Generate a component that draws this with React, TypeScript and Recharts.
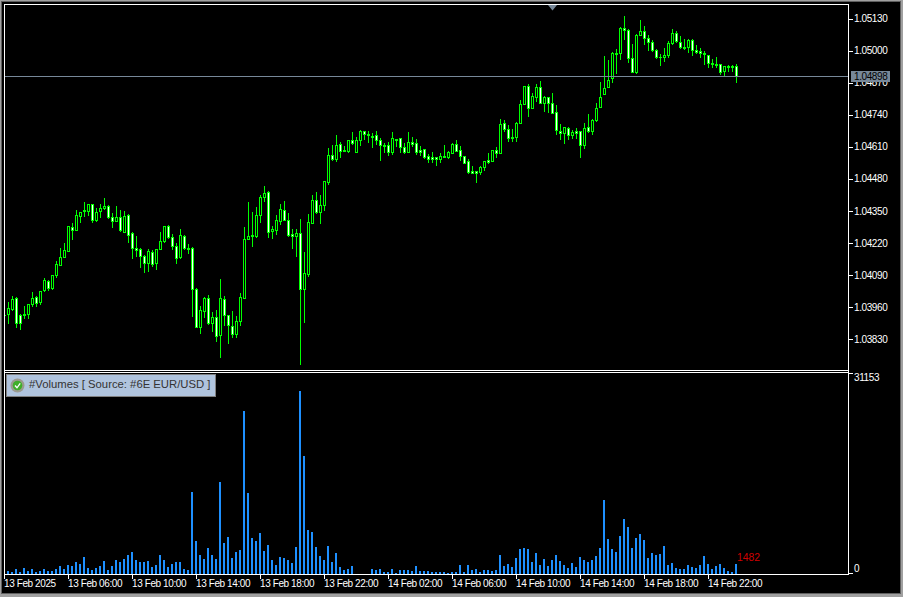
import React from 'react';
import { ComposedChart, Bar, XAxis, YAxis, ReferenceLine, ReferenceDot } from 'recharts';

// 15 minute bars, index 0 is 13 Feb 2025 02:00
const highs = [
  1.03932, 1.0398, 1.04005, 1.04001, 1.03932, 1.03964, 1.03972, 1.04021, 1.04005, 1.04025,
  1.04078, 1.0407, 1.0409, 1.04147, 1.042, 1.0422, 1.04289, 1.04301, 1.04354, 1.04346,
  1.04387, 1.04378, 1.04378, 1.04362, 1.04378, 1.04403, 1.04374, 1.04342, 1.0437, 1.04354,
  1.0435, 1.04338, 1.04265, 1.04248, 1.042, 1.04171, 1.04196, 1.04192, 1.04196, 1.04265,
  1.04289, 1.04293, 1.04257, 1.0422, 1.04277, 1.04253, 1.04216, 1.04204, 1.04037, 1.03964,
  1.04001, 1.04009, 1.0394, 1.03948, 1.04074, 1.04005, 1.03928, 1.03944, 1.03923, 1.04017,
  1.04285, 1.04387, 1.04346, 1.04366, 1.04415, 1.04452, 1.04431, 1.04289, 1.04334, 1.04378,
  1.04391, 1.04342, 1.04277, 1.04277, 1.04318, 1.04183, 1.04338, 1.04415, 1.04427, 1.04415,
  1.04472, 1.04606, 1.04618, 1.04659, 1.0463, 1.04614, 1.04638, 1.04671, 1.04651, 1.04679,
  1.04675, 1.04675, 1.04667, 1.04675, 1.04647, 1.04626, 1.0463, 1.04671, 1.04643, 1.04647,
  1.04626, 1.04671, 1.04651, 1.04643, 1.04614, 1.04602, 1.04582, 1.0459, 1.04569, 1.04586,
  1.04618, 1.04594, 1.04626, 1.04638, 1.04614, 1.04573, 1.04561, 1.04533, 1.04513, 1.04533,
  1.04553, 1.04586, 1.04598, 1.0461, 1.04724, 1.0472, 1.04699, 1.04683, 1.04712, 1.04801,
  1.04858, 1.04866, 1.04829, 1.04866, 1.04878, 1.04817, 1.04813, 1.04829, 1.04781, 1.04703,
  1.04691, 1.04691, 1.04679, 1.04687, 1.04675, 1.04708, 1.04744, 1.04724, 1.04789, 1.04874,
  1.0498, 1.04963, 1.04996, 1.05008, 1.05098, 1.05142, 1.05089, 1.05028, 1.05069, 1.05126,
  1.05102, 1.05065, 1.05045, 1.05008, 1.04988, 1.05012, 1.05041, 1.05089, 1.05081, 1.05061,
  1.05049, 1.05049, 1.05049, 1.05024, 1.05012, 1.05, 1.04984, 1.04968, 1.04976, 1.04947,
  1.04939, 1.04943, 1.04943, 1.04947,
];

const lows = [
  1.03923, 1.03895, 1.03948, 1.03879, 1.03871, 1.03915, 1.03915, 1.03964, 1.03964, 1.03972,
  1.04025, 1.04029, 1.04033, 1.04082, 1.04131, 1.04163, 1.04188, 1.04236, 1.04273, 1.04305,
  1.0433, 1.04334, 1.04305, 1.04309, 1.04326, 1.04358, 1.04322, 1.04285, 1.04309, 1.04269,
  1.04265, 1.04224, 1.04159, 1.04167, 1.04123, 1.04102, 1.04106, 1.04127, 1.04114, 1.04196,
  1.04224, 1.0424, 1.04196, 1.04139, 1.04159, 1.04196, 1.04179, 1.03923, 1.03879, 1.03854,
  1.03919, 1.03891, 1.03863, 1.03822, 1.03757, 1.03887, 1.03814, 1.03838, 1.03838, 1.03887,
  1.03997, 1.04236, 1.04208, 1.04244, 1.04305, 1.04391, 1.04244, 1.0424, 1.04257, 1.04297,
  1.04313, 1.04248, 1.042, 1.04167, 1.03728, 1.03899, 1.04086, 1.04301, 1.04342, 1.04301,
  1.04354, 1.0446, 1.04557, 1.04553, 1.04569, 1.04594, 1.0459, 1.04622, 1.0459, 1.04618,
  1.04643, 1.0463, 1.0461, 1.04622, 1.04557, 1.0459, 1.04578, 1.04582, 1.04614, 1.0459,
  1.04586, 1.0459, 1.04614, 1.04582, 1.04578, 1.04565, 1.04549, 1.04549, 1.04537, 1.04549,
  1.04569, 1.04565, 1.04586, 1.04594, 1.04557, 1.04545, 1.04504, 1.04504, 1.04468, 1.045,
  1.04517, 1.04545, 1.04553, 1.04569, 1.04586, 1.04675, 1.04634, 1.04634, 1.04634, 1.04708,
  1.04785, 1.04736, 1.04768, 1.04797, 1.04789, 1.04756, 1.04752, 1.04748, 1.04663, 1.04643,
  1.04626, 1.04643, 1.04647, 1.04647, 1.04569, 1.04606, 1.04671, 1.04663, 1.04716, 1.04773,
  1.04825, 1.04854, 1.04874, 1.04911, 1.04968, 1.05049, 1.04955, 1.04915, 1.04911, 1.05065,
  1.05028, 1.05004, 1.05, 1.04972, 1.04943, 1.04959, 1.04976, 1.05028, 1.05037, 1.05012,
  1.05008, 1.04996, 1.04984, 1.04992, 1.04976, 1.04947, 1.04935, 1.04935, 1.04935, 1.04907,
  1.04903, 1.04919, 1.04919, 1.04874,
];

const opens = [
  1.03928, 1.03932, 1.03952, 1.03997, 1.03928, 1.03932, 1.03932, 1.03972, 1.04001, 1.0398,
  1.04029, 1.04066, 1.04037, 1.0409, 1.04131, 1.04163, 1.04188, 1.04285, 1.04273, 1.0433,
  1.04354, 1.0435, 1.04378, 1.04313, 1.0435, 1.04362, 1.0437, 1.04326, 1.04309, 1.04326,
  1.04265, 1.04334, 1.04261, 1.042, 1.04196, 1.04167, 1.04139, 1.04183, 1.04139, 1.04196,
  1.04228, 1.04289, 1.04244, 1.04208, 1.04163, 1.04248, 1.042, 1.042, 1.04033, 1.03879,
  1.03944, 1.03997, 1.03895, 1.03919, 1.03846, 1.03993, 1.03928, 1.03883, 1.0385, 1.03903,
  1.03997, 1.04236, 1.04253, 1.04248, 1.04334, 1.04407, 1.04427, 1.04269, 1.04273, 1.04309,
  1.04354, 1.04313, 1.04257, 1.04248, 1.04261, 1.04033, 1.04094, 1.04301, 1.04395, 1.04346,
  1.04374, 1.04468, 1.04578, 1.04561, 1.04622, 1.04598, 1.04594, 1.04638, 1.0459, 1.04638,
  1.04675, 1.04663, 1.04655, 1.04659, 1.04638, 1.04618, 1.04618, 1.0459, 1.04643, 1.04647,
  1.0461, 1.0459, 1.0463, 1.04626, 1.04598, 1.04602, 1.04573, 1.04569, 1.04569, 1.04561,
  1.04573, 1.04569, 1.04586, 1.04622, 1.04598, 1.04573, 1.04553, 1.04513, 1.04513, 1.04508,
  1.04529, 1.04557, 1.04553, 1.04598, 1.04586, 1.04708, 1.04683, 1.04651, 1.04651, 1.04708,
  1.04785, 1.04858, 1.04768, 1.04813, 1.04854, 1.04789, 1.04813, 1.04789, 1.04752, 1.04675,
  1.04667, 1.04687, 1.04659, 1.04675, 1.04675, 1.04618, 1.04691, 1.04675, 1.0472, 1.04773,
  1.04825, 1.04854, 1.0489, 1.04992, 1.04992, 1.05093, 1.05085, 1.04972, 1.04915, 1.05065,
  1.05081, 1.05053, 1.05037, 1.05004, 1.04976, 1.04976, 1.04984, 1.05033, 1.05073, 1.05037,
  1.05016, 1.05016, 1.05045, 1.05004, 1.05, 1.04992, 1.04984, 1.04951, 1.04947, 1.04947,
  1.04919, 1.04939, 1.04939, 1.04939,
];

const closes = [
  1.03928, 1.03956, 1.03993, 1.03895, 1.03895, 1.03928, 1.03972, 1.03997, 1.03976, 1.04025,
  1.0407, 1.04037, 1.0409, 1.04135, 1.04163, 1.04192, 1.04289, 1.04273, 1.04334, 1.04346,
  1.0435, 1.04378, 1.04313, 1.04346, 1.04362, 1.0437, 1.04326, 1.04309, 1.04326, 1.04273,
  1.0433, 1.04253, 1.042, 1.04192, 1.04167, 1.04139, 1.04188, 1.04135, 1.04196, 1.04228,
  1.04289, 1.04244, 1.04208, 1.04159, 1.04253, 1.042, 1.04196, 1.04033, 1.03879, 1.03948,
  1.03997, 1.03895, 1.03919, 1.03842, 1.03997, 1.03928, 1.03887, 1.0385, 1.03903, 1.04001,
  1.04236, 1.04248, 1.04248, 1.04334, 1.04407, 1.04423, 1.04265, 1.04277, 1.04313, 1.04358,
  1.04313, 1.04253, 1.04248, 1.04261, 1.04033, 1.04098, 1.04305, 1.04395, 1.04346, 1.04374,
  1.04472, 1.04578, 1.04561, 1.04618, 1.04594, 1.04594, 1.04638, 1.04626, 1.04638, 1.04675,
  1.04663, 1.04659, 1.04651, 1.04638, 1.04618, 1.04614, 1.0459, 1.04647, 1.04638, 1.0461,
  1.0459, 1.0463, 1.04622, 1.0459, 1.0459, 1.04569, 1.04561, 1.04561, 1.04561, 1.04573,
  1.04569, 1.0459, 1.04622, 1.04594, 1.04573, 1.04545, 1.04508, 1.04504, 1.04504, 1.04529,
  1.04553, 1.04549, 1.04598, 1.04586, 1.04703, 1.04683, 1.04647, 1.04647, 1.04708, 1.04785,
  1.04858, 1.04768, 1.04817, 1.04854, 1.04789, 1.04813, 1.04789, 1.04748, 1.04679, 1.04667,
  1.04691, 1.04659, 1.04671, 1.04667, 1.04618, 1.04687, 1.04675, 1.0472, 1.04768, 1.04813,
  1.0485, 1.04882, 1.04992, 1.04988, 1.05093, 1.05085, 1.04972, 1.04915, 1.05065, 1.05081,
  1.05053, 1.05037, 1.05004, 1.04976, 1.04976, 1.04984, 1.05033, 1.05073, 1.05041, 1.05016,
  1.05012, 1.05045, 1.05004, 1.04996, 1.04992, 1.04988, 1.04951, 1.04947, 1.04943, 1.04915,
  1.04939, 1.04935, 1.04935, 1.04898,
];

const volumes = [
  467, 467, 312, 779, 312, 935, 467, 779, 312, 467,
  779, 467, 467, 779, 1246, 779, 1402, 1246, 1869, 1558,
  2648, 935, 623, 935, 1246, 2025, 623, 1246, 2181, 1869,
  2337, 2960, 3427, 2181, 1869, 1869, 2025, 1090, 1402, 2960,
  2181, 1090, 1558, 1869, 1869, 779, 623, 12773, 5140, 2960,
  2337, 4050, 2960, 2337, 14331, 4829, 5763, 2492, 3427, 3738,
  25390, 12617, 5608, 5140, 6387, 3583, 4517, 2181, 1402, 2648,
  2492, 2181, 1713, 4206, 28505, 18381, 6854, 6542, 4206, 2804,
  2181, 4362, 1869, 3271, 1090, 623, 779, 1246, 0, 0,
  0, 0, 779, 623, 779, 312, 312, 779, 156, 623,
  623, 623, 467, 1246, 467, 467, 467, 312, 312, 312,
  312, 156, 312, 312, 1402, 312, 1402, 623, 779, 312,
  623, 623, 467, 623, 2960, 1246, 1558, 1090, 2492, 3894,
  4050, 3894, 1869, 3271, 1402, 2337, 1246, 2181, 2960, 2025,
  1402, 935, 1713, 1090, 2648, 2181, 1869, 2181, 2804, 4050,
  11527, 5452, 3894, 3427, 5919, 8567, 7321, 4050, 5608, 6231,
  5296, 2492, 3271, 2960, 3115, 4362, 1402, 1713, 935, 779,
  779, 1402, 1090, 935, 1402, 2804, 1558, 779, 1246, 1558,
  935, 467, 312, 1482,
];

const priceTicks = [1.0383, 1.0396, 1.0409, 1.0422, 1.0435, 1.0448, 1.0461, 1.0474, 1.0487, 1.05, 1.0513];
const volumeTicks = [0, 31153];
const timeTickIndexes = [0, 16, 32, 48, 64, 80, 96, 112, 128, 144, 160, 176];
const timeTickLabels = [
  '13 Feb 2025', '13 Feb 06:00', '13 Feb 10:00', '13 Feb 14:00', '13 Feb 18:00', '13 Feb 22:00',
  '14 Feb 02:00', '14 Feb 06:00', '14 Feb 10:00', '14 Feb 14:00', '14 Feb 18:00', '14 Feb 22:00',
];
const lastPrice = 1.04898;
const lastVolume = 1482;
const legendText = '#Volumes [ Source: #6E EUR/USD ]';

const rows = opens.map((open, i) => ({
  i,
  open,
  high: highs[i],
  low: lows[i],
  close: closes[i],
  volume: volumes[i],
}));

const GREEN = '#00ff00';
const SLATE = '#778899';
const FONT = '"Liberation Sans", sans-serif';
const labelStyle = { fontSize: 10, fontFamily: FONT, letterSpacing: -0.4 };

function Candle(props: any) {
  const { x, y, width, height, payload } = props;
  const { open, high, low, close } = payload;
  const col = Math.round(x + width / 2 - 0.5);
  const perPrice = height / (high - low);
  const hi = Math.floor(y);
  const lo = Math.floor(y + height);
  const top = Math.floor(y + (high - Math.max(open, close)) * perPrice);
  const bot = Math.floor(y + (high - Math.min(open, close)) * perPrice);
  return (
    <g shapeRendering="crispEdges">
      <rect x={col} y={hi} width={1} height={lo - hi + 1} fill={GREEN} />
      <rect x={col - 1} y={top} width={3} height={bot - top + 1} fill={GREEN} />
      {bot - top >= 2 && (
        <rect x={col} y={top + 1} width={1} height={bot - top - 1} fill={close < open ? '#ffffff' : '#000000'} />
      )}
    </g>
  );
}

function VolumeBar(props: any) {
  const { x, y, width, height } = props;
  if (!height) return null;
  const col = Math.round(x + width / 2 - 0.5);
  const top = Math.floor(y);
  return <rect x={col - 1} y={top} width={2} height={Math.floor(y + height) - top} fill="#1e90ff" shapeRendering="crispEdges" />;
}

function PriceTick(props: any) {
  const { y, payload } = props;
  return (
    <g>
      <rect x={849} y={Math.floor(y)} width={4} height={1} fill="#fff" shapeRendering="crispEdges" />
      <text x={854} y={y + 3} fill="#fff" style={labelStyle}>{payload.value.toFixed(5)}</text>
    </g>
  );
}

// top label hangs under its tick and the zero label sits above it
function VolumeTick(props: any) {
  const { y, payload } = props;
  const isZero = payload.value === 0;
  const row = Math.floor(y) - 1;
  return (
    <g>
      <rect x={849} y={row} width={4} height={1} fill="#fff" shapeRendering="crispEdges" />
      <text x={854} y={isZero ? row - 1.5 : row + 8} fill="#fff" style={labelStyle}>{payload.value}</text>
    </g>
  );
}

function TimeTick(props: any) {
  const { x, payload, index } = props;
  const col = Math.round(x - 0.5);
  return (
    <g>
      <rect x={col} y={203} width={1} height={4} fill="#fff" shapeRendering="crispEdges" />
      <text x={col} y={215} fill="#fff" style={labelStyle}>{timeTickLabels[index ?? timeTickIndexes.indexOf(payload.value)]}</text>
    </g>
  );
}

function PriceLine(props: any) {
  const row = Math.floor(props.y1);
  return <rect x={5} y={row} width={843} height={1} fill={SLATE} shapeRendering="crispEdges" />;
}

function VolumeLabel(props: any) {
  const { cx, cy } = props;
  return <text x={cx + 0.5} y={cy - 3.5} fill="#d00000" fontSize={10.4} fontFamily={FONT}>{lastVolume}</text>;
}

const frameLines = [
  { left: 4, top: 4, width: 845, height: 1 },
  { left: 4, top: 370, width: 845, height: 1 },
  { left: 4, top: 372, width: 845, height: 1 },
  { left: 4, top: 4, width: 1, height: 571 },
  { left: 848, top: 4, width: 1, height: 571 },
];

export default function App() {
  return (
    <div style={{ position: 'absolute', left: 0, top: 0, width: 903, height: 597, background: '#a0a0a0', overflow: 'hidden' }}>
      <div style={{ position: 'absolute', left: 1, top: 1, width: 900, height: 593, background: '#606060' }} />
      <div style={{ position: 'absolute', left: 2, top: 2, width: 898, height: 591, background: '#000' }} />

      <div style={{ position: 'absolute', left: 0, top: 0 }}>
        <ComposedChart width={903} height={371} data={rows} margin={{ top: 5, right: 0, bottom: 1, left: 4.5 }}>
          <XAxis dataKey="i" type="number" domain={[0, 211]} allowDataOverflow hide />
          <YAxis
            orientation="right"
            width={54.5}
            domain={[1.037061, 1.051889]}
            allowDataOverflow
            ticks={priceTicks}
            interval={0}
            axisLine={false}
            tickLine={false}
            tick={<PriceTick />}
          />
          <Bar dataKey={(d: any) => [d.low, d.high]} barSize={3} shape={<Candle />} isAnimationActive={false} />
          <ReferenceLine y={lastPrice} shape={<PriceLine />} />
        </ComposedChart>
      </div>

      <div style={{ position: 'absolute', left: 0, top: 372 }}>
        <ComposedChart width={903} height={225} data={rows} margin={{ top: 2.5, right: 0, bottom: 0, left: 4.5 }}>
          <XAxis
            dataKey="i"
            type="number"
            domain={[0, 211]}
            allowDataOverflow
            ticks={timeTickIndexes}
            interval={0}
            height={22.5}
            axisLine={{ stroke: '#fff' }}
            tickLine={false}
            tick={<TimeTick />}
          />
          <YAxis
            orientation="right"
            width={54.5}
            domain={[0, 31153]}
            allowDataOverflow
            ticks={volumeTicks}
            interval={0}
            axisLine={false}
            tickLine={false}
            tick={<VolumeTick />}
          />
          <Bar dataKey="volume" barSize={2} shape={<VolumeBar />} isAnimationActive={false} />
          <ReferenceDot x={183} y={lastVolume} r={0} shape={<VolumeLabel />} />
        </ComposedChart>
      </div>

      {frameLines.map((s, i) => (
        <div key={i} style={{ position: 'absolute', background: '#fff', ...s }} />
      ))}

      <svg style={{ position: 'absolute', left: 547, top: 5 }} width={11} height={6}>
        <polygon points="1,0 10,0 5.5,5.5" fill={SLATE} />
      </svg>

      {/* last price tag sits over the axis labels */}
      <div style={{ position: 'absolute', left: 851, top: 71, width: 39, height: 11, background: SLATE, color: '#000', fontFamily: FONT, fontSize: 10, letterSpacing: -0.4, lineHeight: '11px', textIndent: 3 }}>
        {lastPrice.toFixed(5)}
      </div>

      <div style={{ position: 'absolute', left: 6, top: 374, width: 208, height: 21, background: '#b0c4de', border: '1px solid #808080', boxSizing: 'content-box' }}>
        <svg style={{ position: 'absolute', left: 3, top: 3 }} width={15} height={15}>
          <circle cx={7.5} cy={7.5} r={7} fill="#9a9a90" />
          <circle cx={7.5} cy={7.5} r={4.8} fill="#3fae2a" />
          <path d="M5 7.5 L7 9.8 L10.2 5.4" stroke="#fff" strokeWidth={1.3} fill="none" />
        </svg>
        <span style={{ position: 'absolute', left: 22, top: 3, fontFamily: FONT, fontSize: 11.3, color: '#333', whiteSpace: 'nowrap' }}>{legendText}</span>
      </div>
    </div>
  );
}
